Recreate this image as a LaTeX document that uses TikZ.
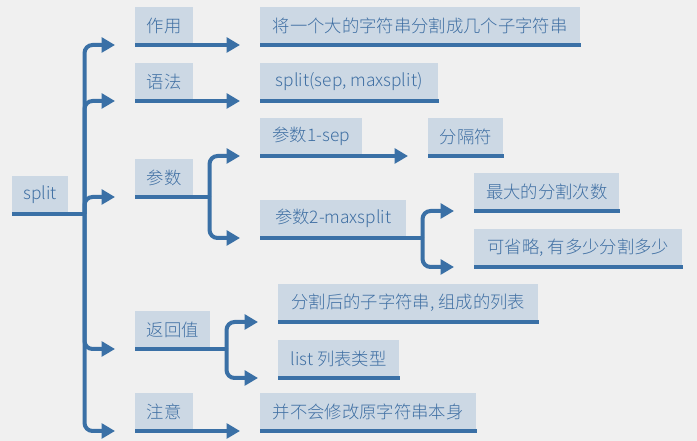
\documentclass[tikz,border=0pt]{standalone}
\usepackage{fontspec}
\newfontfamily\cjk{Noto Sans CJK SC Light}
\usetikzlibrary{arrows.meta}
\definecolor{bgray}{HTML}{F0F0F0}
\definecolor{boxfill}{HTML}{CCD8E4}
\definecolor{lineblue}{HTML}{3A70A6}
\definecolor{inkblue}{HTML}{3F6FA3}

\begin{document}
\begin{tikzpicture}[x=0.75pt, y=-0.75pt,
  topic/.style = {fill=boxfill, text=inkblue, anchor=south west, inner sep=0pt,
                  minimum height=28.5pt, font=\cjk\fontsize{13pt}{15pt}\selectfont},
  link/.style = {draw=lineblue, line width=3pt},
  arr/.style = {link, -{Triangle[length=10pt,width=11pt]}}]
\fill[bgray] (0,0) rectangle (697,441);
\useasboundingbox (0,0) rectangle (697,441);

% first level
\node[topic, minimum width=42pt] (split) at (12,214) {split};
\node[topic, minimum width=43.5pt] (zy) at (135,45) {作用};
\node[topic, minimum width=43.5pt] (yf) at (135,101) {语法};
\node[topic, minimum width=43.5pt] (cs) at (135,197) {参数};
\node[topic, minimum width=56.25pt] (fh) at (135,349) {返回值};
\node[topic, minimum width=43.5pt] (zyi) at (135,431) {注意};

% second level
\node[topic, minimum width=240pt] (zyd) at (260,45) {将一个大的字符串分割成几个子字符串};
\node[topic, minimum width=133.5pt] (yfd) at (260,101) {split(sep, maxsplit)};
\node[topic, minimum width=76.5pt] (sep) at (260,156) {参数1-sep};
\node[topic, minimum width=109.5pt] (maxs) at (260,238) {参数2-maxsplit};
\node[topic, minimum width=56.25pt] (fgf) at (428,156) {分隔符};
\node[topic, minimum width=108.75pt] (cishu) at (474,211) {最大的分割次数};
\node[topic, minimum width=156pt] (ksl) at (474,267) {可省略, 有多少分割多少};
\node[topic, minimum width=195pt] (lb) at (278,322) {分割后的子字符串, 组成的列表};
\node[topic, minimum width=90.75pt] (lx) at (278,378) {list 列表类型};
\node[topic, minimum width=162pt] (zyd2) at (260,431) {并不会修改原字符串本身};

% underlines
\foreach \n in {split,zy,yf,cs,fh,zyi,zyd,yfd,sep,maxs,fgf,cishu,ksl,lb,lx,zyd2}
  \draw[link] (\n.south west) -- (\n.south east);

% branches
\coordinate (h0) at ([xshift=12pt]split.south east);
\draw[link] (split.south east) -- (h0);
\foreach \n in {zy,yf,cs,fh,zyi}
  \draw[arr, rounded corners=6pt] (h0) |- ([xshift=-15pt]\n.south west);

\coordinate (h1) at ([xshift=12pt]cs.south east);
\draw[link] (cs.south east) -- (h1);
\foreach \n in {sep,maxs}
  \draw[arr, rounded corners=6pt] (h1) |- ([xshift=-15pt]\n.south west);

\coordinate (h2) at ([xshift=12pt]maxs.south east);
\draw[link] (maxs.south east) -- (h2);
\foreach \n in {cishu,ksl}
  \draw[arr, rounded corners=6pt] (h2) |- ([xshift=-15pt]\n.south west);

\coordinate (h3) at ([xshift=12pt]fh.south east);
\draw[link] (fh.south east) -- (h3);
\foreach \n in {lb,lx}
  \draw[arr, rounded corners=6pt] (h3) |- ([xshift=-15pt]\n.south west);

\draw[arr] (zy.south east) -- ([xshift=-15pt]zyd.south west);
\draw[arr] (yf.south east) -- ([xshift=-15pt]yfd.south west);
\draw[arr] (sep.south east) -- ([xshift=-15pt]fgf.south west);
\draw[arr] (zyi.south east) -- ([xshift=-15pt]zyd2.south west);
\end{tikzpicture}
\end{document}
